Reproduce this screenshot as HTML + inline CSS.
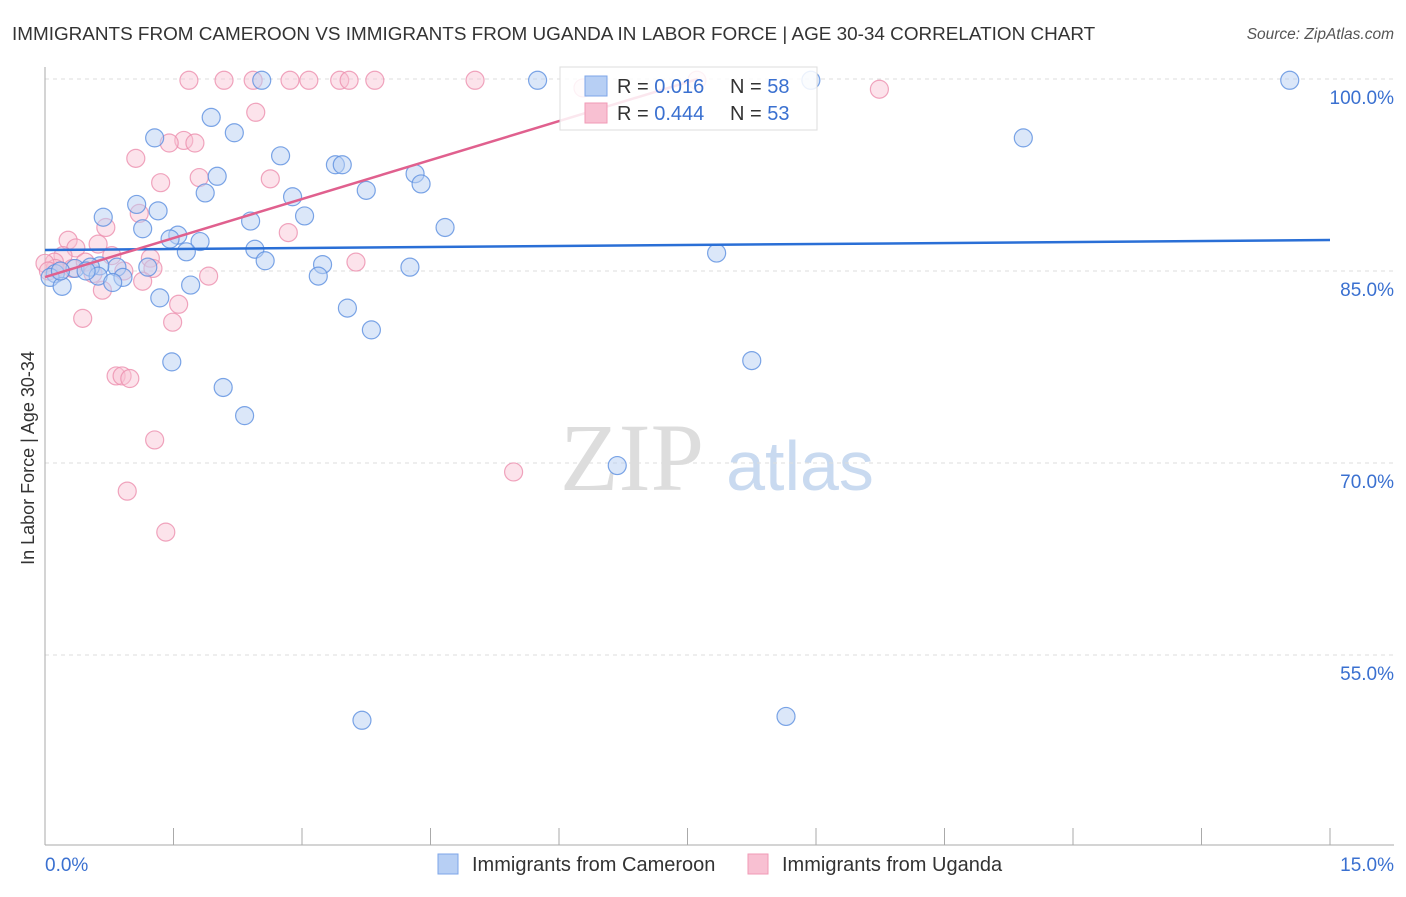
<!DOCTYPE html>
<html><head><meta charset="utf-8">
<style>
html,body{margin:0;padding:0;background:#fff;}
body{width:1406px;height:892px;overflow:hidden;font-family:"Liberation Sans",sans-serif;}
</style></head>
<body>
<svg id="chart" width="1406" height="892" xmlns="http://www.w3.org/2000/svg">
<text x="12" y="40" font-size="18.9" fill="#333">IMMIGRANTS FROM CAMEROON VS IMMIGRANTS FROM UGANDA IN LABOR FORCE | AGE 30-34 CORRELATION CHART</text>
<text x="1394" y="39" font-size="15.5" fill="#555" font-style="italic" text-anchor="end">Source: ZipAtlas.com</text>
<text transform="translate(34,458) rotate(-90)" font-size="18" fill="#333" text-anchor="middle">In Labor Force | Age 30-34</text>
<g>
<text x="632" y="490" font-size="96" font-family="Liberation Serif,serif" fill="#ddd" text-anchor="middle">ZIP</text>
<text x="800" y="490" font-size="70" fill="#c9daf0" text-anchor="middle">atlas</text>
</g>
<g id="grid"></g>
<g id="axes"></g>
<g id="points"></g>
<g id="lines"></g>
<g>
<rect x="560" y="67" width="257" height="63" fill="#fff" fill-opacity="0.85" stroke="#ddd"/>
<rect x="585" y="76" width="22" height="20" fill="#b7cff4" stroke="#7da6e8"/>
<rect x="585" y="103" width="22" height="20" fill="#f8c0d2" stroke="#f09ab6"/>
<text x="617" y="93" font-size="20" fill="#333">R = <tspan fill="#3a70d0">0.016</tspan></text>
<text x="730" y="93" font-size="20" fill="#333">N = <tspan fill="#3a70d0">58</tspan></text>
<text x="617" y="120" font-size="20" fill="#333">R = <tspan fill="#3a70d0">0.444</tspan></text>
<text x="730" y="120" font-size="20" fill="#333">N = <tspan fill="#3a70d0">53</tspan></text>
</g>
<g>
<rect x="438" y="854" width="20" height="20" fill="#b7cff4" stroke="#7da6e8"/>
<text x="472" y="871" font-size="20" fill="#333">Immigrants from Cameroon</text>
<rect x="748" y="854" width="20" height="20" fill="#f8c0d2" stroke="#f09ab6"/>
<text x="782" y="871" font-size="20" fill="#333">Immigrants from Uganda</text>
</g>
</svg>
<script>
const xTicks=[0,1.5,3,4.5,6,7.5,9,10.5,12,13.5,15];
const yGrid=[100,85,70,55];
const yTickLabels=["100.0%","85.0%","70.0%","55.0%"];
const xEndLabels=["0.0%","15.0%"];
const cameroonX=[2.53,5.75,8.94,14.53,1.94,1.28,2.21,11.42,2.75,3.39,3.47,2.01,4.32,4.39,3.75,1.87,2.89,1.07,1.32,0.68,3.03,2.40,4.67,1.14,1.55,1.46,1.81,2.45,1.65,7.84,2.57,3.24,4.26,1.20,0.84,0.64,0.35,0.53,0.12,0.06,0.62,0.91,3.19,0.20,0.79,1.70,1.34,3.53,3.81,8.25,1.48,2.08,2.33,6.68,3.70,8.65,0.18,0.48];
const cameroonY=[99.9,99.9,99.9,99.9,97.0,95.4,95.8,95.4,94.0,93.3,93.3,92.4,92.6,91.8,91.3,91.1,90.8,90.2,89.7,89.2,89.3,88.9,88.4,88.3,87.8,87.5,87.3,86.7,86.5,86.4,85.8,85.5,85.3,85.3,85.3,85.4,85.2,85.3,84.8,84.5,84.6,84.5,84.6,83.8,84.1,83.9,82.9,82.1,80.4,78.0,77.9,75.9,73.7,69.8,49.9,50.2,85.0,85.0];
const ugandaX=[1.68,2.09,2.43,2.86,3.08,3.44,3.55,3.85,5.02,7.61,6.28,9.74,2.46,1.62,1.45,1.75,1.06,1.35,1.80,2.63,1.10,2.84,0.71,0.27,0.62,0.36,0.21,1.23,0.11,0.12,0.32,0.47,0.78,0.56,0.92,1.26,3.63,1.91,1.14,0.67,1.56,0.44,1.49,0.83,0.90,0.99,1.28,5.47,0.96,1.41,0.00,0.04,0.18];
const ugandaY=[99.9,99.9,99.9,99.9,99.9,99.9,99.9,99.9,99.9,99.9,99.3,99.2,97.4,95.2,95.0,95.0,93.8,91.9,92.3,92.2,89.5,88.0,88.4,87.4,87.1,86.8,86.2,86.0,85.7,85.2,85.2,85.7,86.2,84.8,85.0,85.2,85.7,84.6,84.2,83.5,82.4,81.3,81.0,76.8,76.8,76.6,71.8,69.3,67.8,64.6,85.6,85.0,85.0];
const blueTrend=[86.64,87.42];
const pinkTrend=[84.53,100.0,7.62];
const X0=45,X1=1330,Y100=79,PX=12.8;
const xs=v=>X0+(v/15)*(X1-X0);
const ys=v=>Y100+(100-v)*PX;
const NS="http://www.w3.org/2000/svg";
function mk(tag,attrs,parent){const e=document.createElementNS(NS,tag);for(const k in attrs)e.setAttribute(k,attrs[k]);parent.appendChild(e);return e;}
const grid=document.getElementById('grid'),axes=document.getElementById('axes');
yGrid.forEach((v,i)=>{
 const l=mk('line',{x1:X0,x2:1394,y1:ys(v),y2:ys(v),stroke:'#ddd','stroke-dasharray':'4,4'},grid);
 
 
 const t=mk('text',{x:1394,y:ys(v)+25,'font-size':19,fill:'#3a70d0','text-anchor':'end'},axes);
 t.textContent=yTickLabels[i];
 
 
});
const ya=mk('line',{x1:X0,x2:X0,y1:67,y2:845,stroke:'#aaa'},axes);


const xa=mk('line',{x1:X0,x2:1394,y1:845,y2:845,stroke:'#aaa'},axes);


xTicks.forEach(v=>{
 const t=mk('line',{x1:xs(v),x2:xs(v),y1:828,y2:845,stroke:'#aaa'},axes);
 
 
});
const xl0=mk('text',{x:45,y:871,'font-size':19,fill:'#3a70d0'},axes);xl0.textContent=xEndLabels[0];


const xl1=mk('text',{x:1394,y:871,'font-size':19,fill:'#3a70d0','text-anchor':'end'},axes);xl1.textContent=xEndLabels[1];


const pts=document.getElementById('points');
ugandaX.forEach((v,i)=>{
 const c=mk('circle',{cx:xs(v),cy:ys(ugandaY[i]),r:9,fill:'#f8c0d2','fill-opacity':0.45,stroke:'#ec8fae','stroke-opacity':0.8,'stroke-width':1.2},pts);
 
 
});
cameroonX.forEach((v,i)=>{
 const c=mk('circle',{cx:xs(v),cy:ys(cameroonY[i]),r:9,fill:'#b7cff4','fill-opacity':0.5,stroke:'#5b8fe0','stroke-opacity':0.8,'stroke-width':1.2},pts);
 
 
});
const lines=document.getElementById('lines');
const bl=mk('line',{x1:xs(0),y1:ys(blueTrend[0]),x2:xs(15),y2:ys(blueTrend[1]),stroke:'#2a6fd6','stroke-width':2.5},lines);


const pl=mk('line',{x1:xs(0),y1:ys(pinkTrend[0]),x2:xs(pinkTrend[2]),y2:ys(pinkTrend[1]),stroke:'#e0608e','stroke-width':2.5},lines);


</script>
</body></html>
